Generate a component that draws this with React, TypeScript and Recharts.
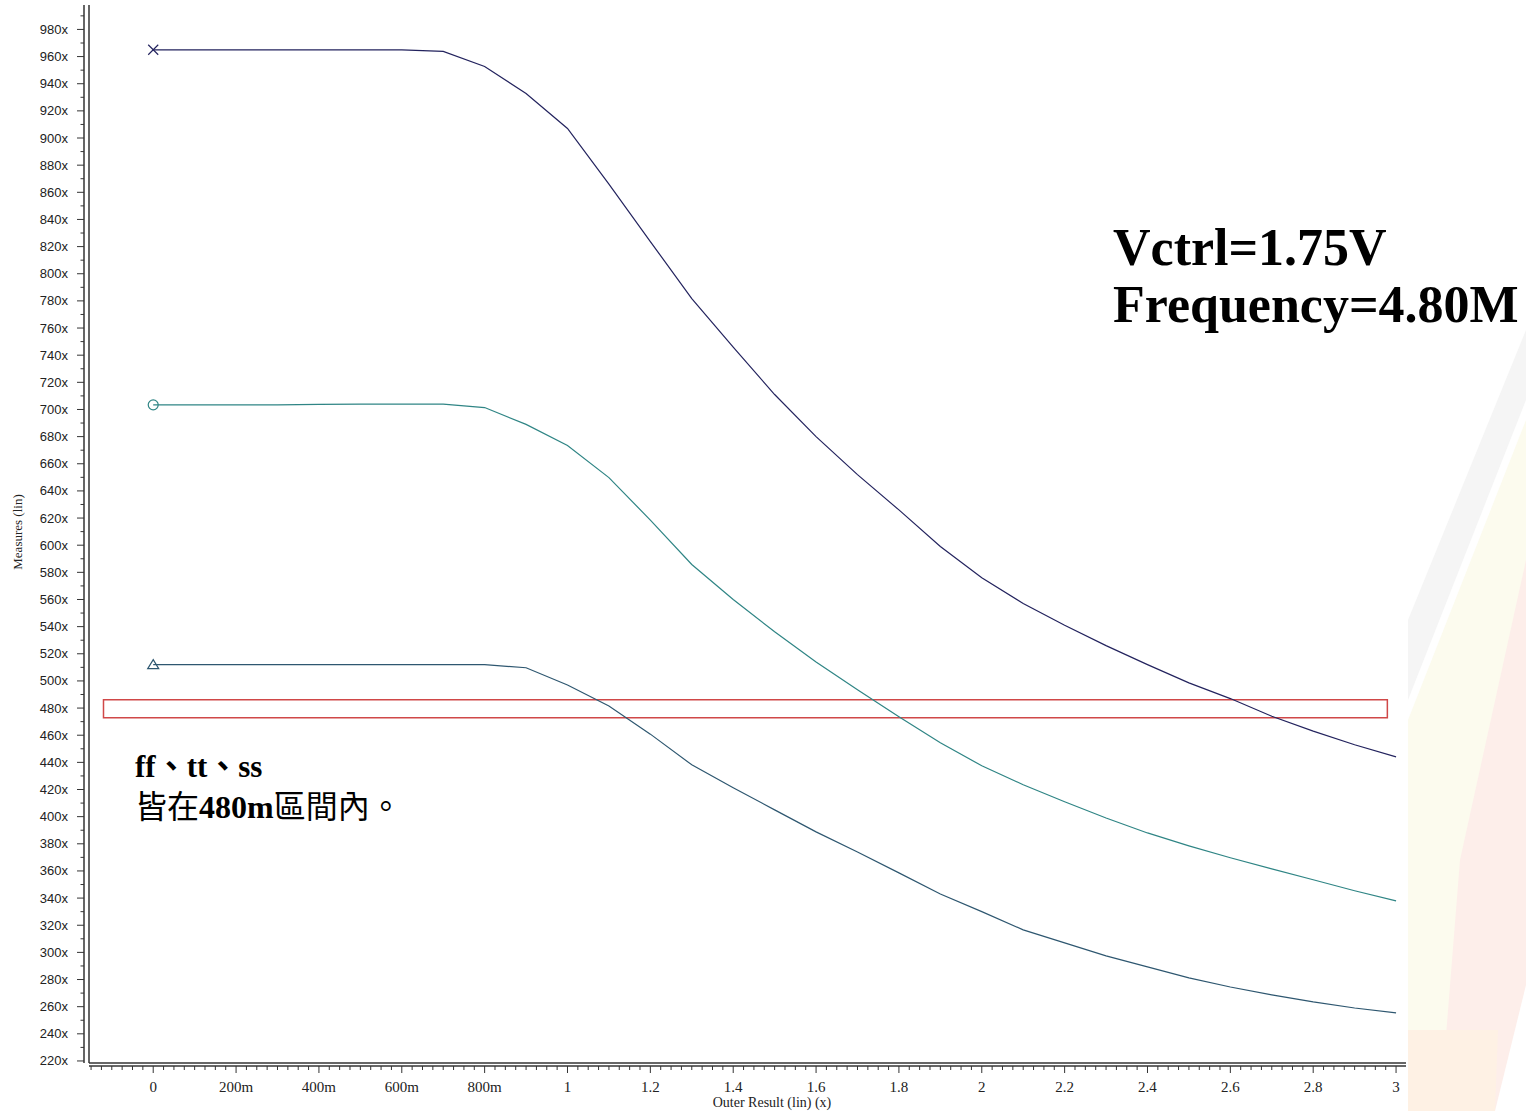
import React from 'react';
import { LineChart, Line, XAxis, YAxis, ReferenceArea } from 'recharts';

// ---- data ----
const xValues = [0, 0.1, 0.2, 0.3, 0.4, 0.5, 0.6, 0.7, 0.8, 0.9, 1.0, 1.1, 1.2, 1.3, 1.4, 1.5, 1.6, 1.7, 1.8, 1.9, 2.0, 2.1, 2.2, 2.3, 2.4, 2.5, 2.6, 2.7, 2.8, 2.9, 3.0];
const ffValues = [965, 965, 965, 965, 965, 965, 965, 963.8, 952.7, 932.8, 907, 866, 823.7, 781.7, 746, 711, 680, 652, 626, 599, 576, 557, 541, 526, 512, 498.6, 487, 474, 463, 453, 444];
const ttValues = [703.4, 703.4, 703.4, 703.4, 703.8, 704, 704, 704, 701.4, 689, 673.4, 649.8, 618.5, 585.8, 560, 536.2, 514, 493.5, 473.6, 454.4, 437.5, 423.5, 411, 399, 388, 378.5, 369.7, 361.5, 353.5, 345.4, 338];
const ssValues = [512, 512, 512, 512, 512, 512, 512, 512, 512, 509.7, 497, 481.5, 460.8, 438.2, 421.3, 405, 388.8, 374, 358.6, 343, 330, 316.6, 307, 297.4, 289.3, 281.2, 274.5, 268.7, 263.5, 259, 255.4];

const yMajorTicks = [220, 240, 260, 280, 300, 320, 340, 360, 380, 400, 420, 440, 460, 480, 500, 520, 540, 560, 580, 600, 620, 640, 660, 680, 700, 720, 740, 760, 780, 800, 820, 840, 860, 880, 900, 920, 940, 960, 980];
const yTickLabels = ['220x', '240x', '260x', '280x', '300x', '320x', '340x', '360x', '380x', '400x', '420x', '440x', '460x', '480x', '500x', '520x', '540x', '560x', '580x', '600x', '620x', '640x', '660x', '680x', '700x', '720x', '740x', '760x', '780x', '800x', '820x', '840x', '860x', '880x', '900x', '920x', '940x', '960x', '980x'];
const xMajorTicks = [0, 0.2, 0.4, 0.6, 0.8, 1, 1.2, 1.4, 1.6, 1.8, 2, 2.2, 2.4, 2.6, 2.8, 3];
const xTickLabels = ['0', '200m', '400m', '600m', '800m', '1', '1.2', '1.4', '1.6', '1.8', '2', '2.2', '2.4', '2.6', '2.8', '3'];

// minor tick grids (axis decoration)
const yAllTicks = Array.from({ length: 78 }, (_, i) => 220 + i * 10);
const xAllTicks = Array.from({ length: 127 }, (_, i) => Math.round((-0.15 + i * 0.025) * 1000) / 1000);

const X_DOMAIN: [number, number] = [-0.155, 3.024];
const Y_DOMAIN: [number, number] = [218.5, 998];
const BAND = { x1: -0.12, x2: 2.979, y1: 472.9, y2: 486.1 };

const chartData = xValues.map((x, i) => ({ x, ff: ffValues[i], tt: ttValues[i], ss: ssValues[i] }));

const AXIS = '#333';

const YTick = (props: any) => {
  const { x, y, payload } = props;
  const v = payload.value;
  const idx = yMajorTicks.indexOf(v);
  const major = idx >= 0;
  return (
    <g>
      <line x1={x - (major ? 7 : 3.5)} x2={x} y1={y} y2={y} stroke={AXIS} strokeWidth={1} />
      {major && (
        <text x={x - 16} y={y} dy={4.5} textAnchor="end" fontSize={13} fontFamily="Liberation Sans, Arial, sans-serif" fill="#222">
          {yTickLabels[idx]}
        </text>
      )}
    </g>
  );
};

const XTick = (props: any) => {
  const { x, y, payload } = props;
  const v = payload.value;
  const k = v * 5;
  const major = v > -1e-9 && Math.abs(k - Math.round(k)) < 1e-6;
  const idx = major ? xMajorTicks.indexOf(Math.round(k) / 5) : -1;
  return (
    <g>
      <line x1={x} x2={x} y1={y} y2={y + (major ? 7 : 4)} stroke={AXIS} strokeWidth={1} />
      {major && idx >= 0 && (
        <text x={x} y={y + 26} textAnchor="middle" fontSize={15} fontFamily="Liberation Serif, Times New Roman, serif" fill="#222">
          {xTickLabels[idx]}
        </text>
      )}
    </g>
  );
};

const makeDot = (kind: 'x' | 'o' | 't', color: string) => (props: any) => {
  const { cx, cy, index } = props;
  if (index !== 0 || cx == null || cy == null) return <g key={`d-${kind}-${index}`} />;
  if (kind === 'x') {
    return (
      <g key={`d-${kind}`}>
        <line x1={cx - 5} y1={cy - 5} x2={cx + 5} y2={cy + 5} stroke={color} strokeWidth={1.2} />
        <line x1={cx - 5} y1={cy + 5} x2={cx + 5} y2={cy - 5} stroke={color} strokeWidth={1.2} />
      </g>
    );
  }
  if (kind === 'o') {
    return <circle key={`d-${kind}`} cx={cx} cy={cy} r={5} fill="none" stroke={color} strokeWidth={1.2} />;
  }
  return (
    <path key={`d-${kind}`} d={`M${cx},${cy - 5} L${cx + 5.5},${cy + 4} L${cx - 5.5},${cy + 4} Z`} fill="none" stroke={color} strokeWidth={1.2} />
  );
};

const FF_COLOR = '#23235e';
const TT_COLOR = '#2f8585';
const SS_COLOR = '#2e5770';

export default function App() {
  return (
    <div style={{ position: 'absolute', left: 0, top: 0, width: 1526, height: 1111, background: '#fff', overflow: 'hidden' }}>
      <svg width={1526} height={1111} style={{ position: 'absolute', left: 0, top: 0 }}>
        <polygon points="1408,620 1526,330 1526,400 1408,700" fill="#f5f5f5" />
        <polygon points="1408,1111 1450,1111 1526,700 1526,420 1408,720" fill="#fcfbee" />
        <polygon points="1440,1111 1495,1111 1526,985 1526,560 1460,860" fill="#fdeeea" />
        <polygon points="1408,1030 1498,1030 1495,1111 1408,1111" fill="#fef1e4" />
      </svg>
      <div style={{ position: 'absolute', left: 0, top: 0 }}>
        <LineChart width={1526} height={1111} data={chartData} margin={{ top: 5, right: 120, left: 0, bottom: 0 }}>
          <XAxis dataKey="x" type="number" domain={X_DOMAIN} allowDataOverflow height={3} tick={false} tickLine={false} axisLine={{ stroke: AXIS, strokeWidth: 1.5 }} />
          <XAxis
            xAxisId="outer"
            dataKey="x"
            type="number"
            domain={X_DOMAIN}
            allowDataOverflow
            ticks={xAllTicks}
            interval={0}
            height={45}
            tick={<XTick />}
            tickLine={false}
            tickSize={0}
            tickMargin={0}
            axisLine={{ stroke: AXIS, strokeWidth: 1.5 }}
          />
          <YAxis type="number" domain={Y_DOMAIN} allowDataOverflow width={5} tick={false} tickLine={false} axisLine={{ stroke: AXIS, strokeWidth: 1.5 }} />
          <YAxis
            yAxisId="outer"
            type="number"
            domain={Y_DOMAIN}
            allowDataOverflow
            ticks={yAllTicks}
            interval={0}
            width={84}
            tick={<YTick />}
            tickLine={false}
            tickSize={0}
            tickMargin={0}
            axisLine={{ stroke: AXIS, strokeWidth: 1.5 }}
          />
          <ReferenceArea x1={BAND.x1} x2={BAND.x2} y1={BAND.y1} y2={BAND.y2} fill="none" fillOpacity={0} stroke="#d04848" strokeWidth={1.5} ifOverflow="visible" />
          <Line dataKey="ff" type="linear" stroke={FF_COLOR} strokeWidth={1.2} dot={makeDot('x', FF_COLOR)} activeDot={false} isAnimationActive={false} />
          <Line dataKey="tt" type="linear" stroke={TT_COLOR} strokeWidth={1.2} dot={makeDot('o', TT_COLOR)} activeDot={false} isAnimationActive={false} />
          <Line dataKey="ss" type="linear" stroke={SS_COLOR} strokeWidth={1.2} dot={makeDot('t', SS_COLOR)} activeDot={false} isAnimationActive={false} />
        </LineChart>
      </div>
      <svg width={1526} height={1111} style={{ position: 'absolute', left: 0, top: 0, pointerEvents: 'none' }}>
        <text x={772} y={1107} textAnchor="middle" fontSize={14} fontFamily="Liberation Serif, Times New Roman, serif" fill="#222">
          Outer Result (lin) (x)
        </text>
        <text x={22} y={532} transform="rotate(-90 22 532)" textAnchor="middle" fontSize={13} fontFamily="Liberation Serif, Times New Roman, serif" fill="#222">
          Measures (lin)
        </text>
        <text x={1113} y={265} fontSize={52} fontWeight="bold" fontFamily="Liberation Serif, Times New Roman, serif" fill="#000">
          Vctrl=1.75V
        </text>
        <text x={1113} y={322} fontSize={52} fontWeight="bold" fontFamily="Liberation Serif, Times New Roman, serif" fill="#000">
          Frequency=4.80M
        </text>
        <text x={135} y={777} fontSize={31} fontWeight="bold" fontFamily="Liberation Serif, Noto Sans CJK TC, serif" fill="#000">
          ff、tt、ss
        </text>
        <text x={135} y={818} fontSize={32} fontFamily="Noto Sans CJK TC, sans-serif" fill="#000">
          皆在<tspan fontFamily="Liberation Serif, serif" fontWeight="bold">480m</tspan>區間內。
        </text>
      </svg>
    </div>
  );
}
